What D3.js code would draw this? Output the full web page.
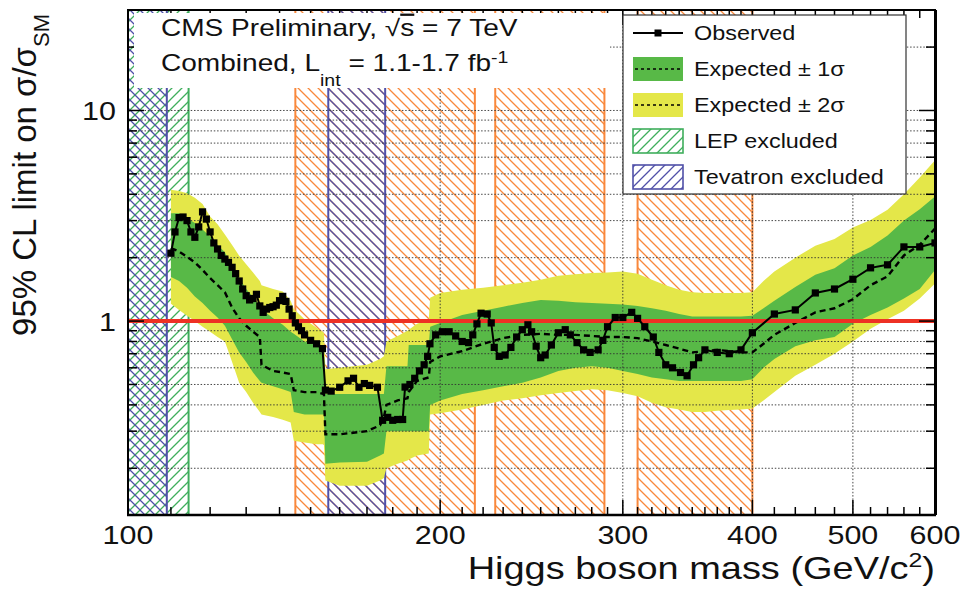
<!DOCTYPE html>
<html>
<head>
<meta charset="utf-8">
<script src="https://cdn.jsdelivr.net/npm/d3@7"></script>
<style>
  html, body { margin: 0; padding: 0; background: #fff; }
  svg { display: block; font-family: "Liberation Sans", Arial, Helvetica, sans-serif; }
</style>
</head>
<body>
<svg id="chart" width="965" height="592"></svg>
<script>
// ---- Observed 95% CL upper limit on sigma/sigma_SM ----
const obsMass = [110,111,112,113,114,115,116,117,118,119,120,121,122,123,124,125,126,127,128,129,
  130,131,132,133,134,135,136,137,138,139,140,141,142,143,144,145,146,147,148,150,152,154,
  155,157,160,163,165,167,169,171,174,176,178,180,182,184,185,187,189,191,193,194.5,195.5,198,
  201,204,207,210,213,215,217,219,222,224,225.5,228,231,234,237,240,243,245,247.5,250,252.5,256,
  260,264,267,271,275,279,284,287,290,295,300,306,310,315,321,325,330,335,341,346,351,355,360,
  370,380,390,400,420,440,460,480,500,520,540,560,580,600];
const obsLimit = [2.10,2.65,3.10,3.12,3.00,2.65,2.50,2.80,3.30,3.05,2.65,2.35,2.20,2.05,1.97,1.90,1.80,1.68,1.55,1.42,
  1.32,1.26,1.28,1.34,1.18,1.10,1.14,1.16,1.17,1.19,1.25,1.31,1.24,1.14,1.06,0.98,0.94,0.90,0.86,0.81,0.78,0.74,
  0.47,0.465,0.485,0.52,0.535,0.485,0.505,0.495,0.485,0.338,0.349,0.338,0.341,0.341,0.486,0.50,0.535,0.58,0.62,0.68,0.78,0.86,
  0.89,0.89,0.85,0.80,0.79,0.86,0.97,1.09,1.08,0.98,0.75,0.68,0.69,0.75,0.84,0.91,0.96,0.89,0.76,0.67,0.69,0.77,
  0.88,0.91,0.86,0.79,0.73,0.71,0.73,0.81,0.94,1.04,1.04,1.10,1.03,0.94,0.84,0.71,0.62,0.60,0.57,0.55,0.62,0.67,0.73,
  0.71,0.70,0.73,0.88,1.08,1.13,1.36,1.42,1.58,1.79,1.85,2.25,2.25,2.35];

// ---- Expected limit: median and the 68% / 95% bands ----
const expMass = [110,112,114,116,118,120,122,124,126,128,130,132,134,134.5,138,141,143.5,144.5,148,152,154.5,
  155,160,170,175,176.5,177.5,182,186,186.5,190,195,195.6,200,210,220,230,240,250,260,270,280,290,300,
  310,320,330,340,350,360,370,380,390,400,410,420,440,460,480,500,520,540,560,580,600];
const expMedian = [2.22,2.14,2.02,1.90,1.75,1.60,1.48,1.37,1.16,1.03,0.95,0.89,0.84,0.62,0.58,0.57,0.56,0.47,0.46,0.46,0.45,
  0.29,0.29,0.30,0.32,0.35,0.40,0.42,0.43,0.46,0.52,0.54,0.64,0.68,0.72,0.78,0.83,0.86,0.87,0.86,0.86,0.85,0.84,0.84,
  0.83,0.80,0.77,0.74,0.71,0.72,0.73,0.72,0.71,0.71,0.78,0.86,0.98,1.10,1.15,1.27,1.48,1.63,2.05,2.30,2.75];
const expMinus2 = [1.21,1.13,1.06,1.00,0.94,0.89,0.84,0.80,0.64,0.51,0.46,0.41,0.37,0.36,0.35,0.34,0.33,0.27,0.265,0.26,0.26,
  0.175,0.165,0.165,0.175,0.18,0.20,0.21,0.218,0.22,0.23,0.235,0.36,0.365,0.38,0.40,0.42,0.43,0.445,0.455,0.465,0.475,0.47,0.455,
  0.44,0.41,0.39,0.38,0.37,0.37,0.375,0.378,0.38,0.385,0.42,0.46,0.55,0.62,0.70,0.80,0.92,1.02,1.12,1.28,1.51];
const expMinus1 = [1.62,1.55,1.44,1.31,1.22,1.12,1.04,0.95,0.82,0.71,0.64,0.57,0.52,0.51,0.49,0.475,0.46,0.37,0.36,0.36,0.36,
  0.21,0.213,0.215,0.23,0.235,0.30,0.30,0.30,0.30,0.30,0.30,0.40,0.42,0.45,0.47,0.49,0.51,0.54,0.58,0.60,0.61,0.60,0.58,
  0.56,0.54,0.53,0.52,0.52,0.52,0.52,0.52,0.52,0.53,0.60,0.66,0.76,0.81,0.84,0.97,1.07,1.16,1.28,1.42,1.75];
const expPlus1 = [3.25,3.25,3.08,2.92,2.72,2.52,2.30,2.12,1.80,1.60,1.42,1.30,1.18,1.14,1.03,0.96,0.89,0.87,0.80,0.77,0.75,
  0.45,0.45,0.45,0.45,0.45,0.61,0.61,0.61,0.77,0.77,0.77,0.94,0.98,1.07,1.12,1.17,1.22,1.26,1.25,1.23,1.22,1.21,1.20,
  1.18,1.15,1.12,1.08,1.05,1.05,1.05,1.05,1.05,1.06,1.15,1.25,1.45,1.66,1.78,2.05,2.25,2.55,3.00,3.40,3.90];
const expPlus2 = [4.20,4.15,4.05,3.85,3.60,3.14,2.88,2.58,2.30,2.04,1.86,1.70,1.55,1.48,1.42,1.38,1.25,1.14,1.02,0.93,0.88,
  0.59,0.60,0.62,0.66,0.68,0.80,0.85,0.90,0.91,0.97,1.02,1.29,1.36,1.41,1.44,1.48,1.52,1.57,1.64,1.67,1.69,1.70,1.72,
  1.68,1.57,1.48,1.41,1.37,1.36,1.36,1.36,1.36,1.37,1.55,1.72,2.00,2.28,2.45,2.78,3.02,3.38,4.00,4.80,5.80];

// ---- Excluded mass ranges (GeV) ----
const cmsExcluded = [[145, 216], [226, 288], [310, 400]];
const tevatronExcluded = [[100, 109], [156, 177]];
const lepExcluded = [[100, 114.4]];

// ---- Axis ticks ----
const xMajorTicks = [100, 200, 300, 400, 500, 600];
const xMinorTicks = [110,120,130,140,150,160,170,180,190,210,220,230,240,250,260,270,280,290,
  310,320,330,340,350,360,370,380,390,420,440,460,480,520,540,560,580];
const xGrid = [200, 300, 400, 500];
const yMajorTicks = [1, 10];
const yMinorTicks = [0.2,0.3,0.4,0.5,0.6,0.7,0.8,0.9,2,3,4,5,6,7,8,9,20];
const yGrid = [0.2,0.3,0.4,0.5,0.6,0.7,0.8,0.9,2,3,4,5,6,7,8,9,10,20];

const legendEntries = ["Observed", "Expected \u00B1 1\u03C3", "Expected \u00B1 2\u03C3", "LEP excluded", "Tevatron excluded"];

// ---- Colours ----
const C = {
  yellow: "#e4e749", green: "#58b947", red: "#ee3124",
  orange: "#f9883b", tev: "#5050a8", lep: "#3fae5c", grid: "#333"
};

// ---- Frame and scales ----
const L = 128, R = 935, T = 10, B = 515;
const x = d3.scaleLog().domain([100, 600]).range([L, R]);
const y = d3.scaleLog().domain([0.12, 30]).range([B, T]);
const SX = 1.22; // horizontal stretch of the lettering

const svg = d3.select("#chart");
svg.append("rect").attr("width", 965).attr("height", 592).attr("fill", "#fff");

const defs = svg.append("defs");
defs.append("clipPath").attr("id", "plotClip")
  .append("rect").attr("x", L).attr("y", T).attr("width", R - L).attr("height", B - T);

function hatch(id, color, back) {
  const p = defs.append("pattern").attr("id", id)
    .attr("patternUnits", "userSpaceOnUse").attr("width", 10).attr("height", 10);
  p.append("path")
    .attr("d", back ? "M-1,-1L11,11M-6,4L6,16M4,-6L16,6" : "M-1,11L11,-1M-6,6L6,-6M4,16L16,4")
    .attr("stroke", color).attr("stroke-width", 1.3).attr("fill", "none");
}
hatch("hCms", C.orange, true);
hatch("hTev", C.tev, true);
hatch("hTevLeg", C.tev, false);
hatch("hLep", C.lep, false);

const plot = svg.append("g").attr("clip-path", "url(#plotClip)");

// left frame edge sits beneath the exclusion hatches
svg.append("line").attr("x1", L).attr("x2", L).attr("y1", T).attr("y2", B)
  .attr("stroke", "#000").attr("stroke-width", 2);

// ---- Hatched exclusion regions ----
function excluded(ranges, pat, color) {
  ranges.forEach(([a, b]) => {
    plot.append("rect").attr("x", x(a)).attr("y", T).attr("width", x(b) - x(a)).attr("height", B - T)
      .attr("fill", `url(#${pat})`);
    [a, b].forEach(m => {
      plot.append("line").attr("x1", x(m)).attr("x2", x(m)).attr("y1", T).attr("y2", B)
        .attr("stroke", color).attr("stroke-width", 2);
    });
  });
}
excluded(cmsExcluded, "hCms", C.orange);
excluded(lepExcluded, "hLep", C.lep);
excluded(tevatronExcluded, "hTev", C.tev);

// ---- Expected bands ----
const band = expMass.map((m, i) => ({
  m, med: expMedian[i], lo2: expMinus2[i], lo1: expMinus1[i], hi1: expPlus1[i], hi2: expPlus2[i]
}));
plot.append("path").datum(band).attr("fill", C.yellow)
  .attr("d", d3.area().x(d => x(d.m)).y0(d => y(d.lo2)).y1(d => y(d.hi2)));
plot.append("path").datum(band).attr("fill", C.green)
  .attr("d", d3.area().x(d => x(d.m)).y0(d => y(d.lo1)).y1(d => y(d.hi1)));

// ---- Grid ----
const grid = plot.append("g").attr("stroke", C.grid).attr("stroke-width", 1)
  .attr("stroke-dasharray", "1.5,1.8").attr("opacity", 0.9);
yGrid.forEach(v => grid.append("line").attr("x1", L).attr("x2", R).attr("y1", y(v)).attr("y2", y(v)));
xGrid.forEach(m => grid.append("line").attr("x1", x(m)).attr("x2", x(m)).attr("y1", T).attr("y2", B));

// ---- Expected median ----
plot.append("path").datum(band).attr("fill", "none").attr("stroke", "#000")
  .attr("stroke-width", 2.4).attr("stroke-dasharray", "6,4")
  .attr("d", d3.line().x(d => x(d.m)).y(d => y(d.med)));

// ---- SM reference line ----
plot.append("line").attr("x1", L).attr("x2", R).attr("y1", y(1)).attr("y2", y(1))
  .attr("stroke", C.red).attr("stroke-width", 4);

// ---- Observed ----
const obs = obsMass.map((m, i) => ({ m, v: obsLimit[i] }));
plot.append("path").datum(obs).attr("fill", "none").attr("stroke", "#000").attr("stroke-width", 2)
  .attr("d", d3.line().x(d => x(d.m)).y(d => y(d.v)));
plot.selectAll("rect.obs").data(obs).join("rect").attr("class", "obs")
  .attr("x", d => x(d.m) - 3.6).attr("y", d => y(d.v) - 3.6).attr("width", 7.2).attr("height", 7.2).attr("fill", "#000");

// ---- Frame and ticks ----
const ax = svg.append("g").attr("stroke", "#000");
ax.append("line").attr("x1", L - 1).attr("x2", R + 1).attr("y1", B).attr("y2", B).attr("stroke-width", 2.5);
ax.append("line").attr("x1", L - 1).attr("x2", R + 1).attr("y1", T).attr("y2", T).attr("stroke-width", 2);
ax.append("line").attr("x1", R + 0.5).attr("x2", R + 0.5).attr("y1", T).attr("y2", B).attr("stroke-width", 3);
function xTick(m, len) {
  ax.append("line").attr("x1", x(m)).attr("x2", x(m)).attr("y1", B).attr("y2", B - len).attr("stroke-width", 1.5);
  ax.append("line").attr("x1", x(m)).attr("x2", x(m)).attr("y1", T).attr("y2", T + len).attr("stroke-width", 1.5);
}
function yTick(v, len) {
  ax.append("line").attr("x1", L).attr("x2", L + len).attr("y1", y(v)).attr("y2", y(v)).attr("stroke-width", 1.5);
  ax.append("line").attr("x1", R).attr("x2", R - len).attr("y1", y(v)).attr("y2", y(v)).attr("stroke-width", 1.5);
}
xMinorTicks.forEach(m => xTick(m, 8));
xMajorTicks.forEach(m => xTick(m, 15));
yMinorTicks.forEach(v => yTick(v, 9));
yMajorTicks.forEach(v => yTick(v, 16));

// ---- Text helpers ----
function stretched(g, px, py, size, anchor, sx) {
  return g.append("text").attr("transform", `translate(${px},${py}) scale(${sx || SX},1)`)
    .attr("font-size", size).attr("text-anchor", anchor || "start").attr("fill", "#111");
}

// tick labels
xMajorTicks.forEach(m => stretched(svg, x(m), 544, 25, "middle").text(m));
yMajorTicks.forEach(v => stretched(svg, 116, y(v) + 10, 25, "end").text(v));

// axis titles
const xt = stretched(svg, 935, 579, 30.5, "end", 1.245);
xt.append("tspan").text("Higgs boson mass (GeV/c");
xt.append("tspan").attr("font-size", 20).attr("dy", -12).text("2");
xt.append("tspan").attr("dy", 12).text(")");

const yt = svg.append("text").attr("transform", "translate(36,14) rotate(-90)")
  .attr("font-size", 33).attr("text-anchor", "end").attr("fill", "#111");
yt.append("tspan").text("95% CL limit on \u03C3/\u03C3");
yt.append("tspan").attr("font-size", 22).attr("dy", 13).text("SM");

// ---- Header box ----
svg.append("rect").attr("x", 134).attr("y", 13).attr("width", 476).attr("height", 75).attr("fill", "#fff");
const h1 = stretched(svg, 161, 36, 23);
h1.append("tspan").text("CMS Preliminary, \u221A");
h1.append("tspan").style("text-decoration", "overline").text("s");
h1.append("tspan").text(" = 7 TeV");
const h2 = stretched(svg, 161, 71, 23);
h2.append("tspan").text("Combined, L");
h2.append("tspan").attr("font-size", 16).attr("dy", 15).text("int");
h2.append("tspan").attr("dy", -15).text(" = 1.1-1.7 fb");
h2.append("tspan").attr("font-size", 16).attr("dy", -8).text("-1");

// ---- Legend ----
const lg = svg.append("g");
lg.append("rect").attr("x", 623).attr("y", 15).attr("width", 283).attr("height", 179)
  .attr("fill", "#fff").attr("stroke", "#333").attr("stroke-width", 1.2);
const rowY = [33, 69, 105, 141, 177];
const sx0 = 633, sx1 = 683;
// observed
lg.append("line").attr("x1", sx0).attr("x2", sx1).attr("y1", rowY[0]).attr("y2", rowY[0])
  .attr("stroke", "#000").attr("stroke-width", 1.8);
lg.append("rect").attr("x", (sx0 + sx1) / 2 - 3.5).attr("y", rowY[0] - 3.5).attr("width", 7).attr("height", 7).attr("fill", "#000");
// bands
[[C.green, rowY[1]], [C.yellow, rowY[2]]].forEach(([col, cy]) => {
  lg.append("rect").attr("x", sx0).attr("y", cy - 12).attr("width", sx1 - sx0).attr("height", 24).attr("fill", col);
  lg.append("line").attr("x1", sx0 + 2).attr("x2", sx1 - 2).attr("y1", cy).attr("y2", cy)
    .attr("stroke", "#000").attr("stroke-width", 1.5).attr("stroke-dasharray", "3,3");
});
// hatched swatches
[["hLep", C.lep, rowY[3]], ["hTevLeg", C.tev, rowY[4]]].forEach(([pat, col, cy]) => {
  lg.append("rect").attr("x", sx0).attr("y", cy - 12).attr("width", sx1 - sx0).attr("height", 24)
    .attr("fill", `url(#${pat})`).attr("stroke", col).attr("stroke-width", 1.6);
});
legendEntries.forEach((t, i) => stretched(lg, 694, rowY[i] + 7, 20, "start", 1.17).text(t));
</script>
</body>
</html>
